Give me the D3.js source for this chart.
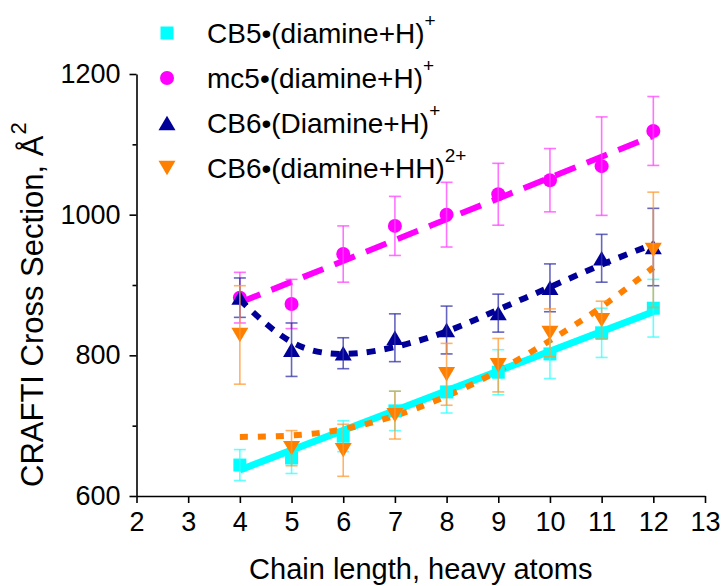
<!DOCTYPE html>
<html>
<head>
<meta charset="utf-8">
<script src="https://cdn.jsdelivr.net/npm/d3@7"></script>
<style>
  html, body { margin: 0; padding: 0; background: #fff; }
  svg { display: block; font-family: "Liberation Sans", Arial, sans-serif; }
</style>
</head>
<body>
<svg id="chart" width="723" height="586"></svg>
<script>
// ---------- data ----------
const chainLength = [4, 5, 6, 7, 8, 9, 10, 11, 12];

const cb5Values   = [644, 654, 685, 721, 748, 776, 802, 832, 867];
const cb5Errors   = [22, 22, 22, 28, 30, 32, 35, 35, 41];
const cb5Fit      = [637, 862];            // fit line at x = 4 and x = 12
const cb5FitX     = [4, 12];

const mc5Values   = [882, 873, 944, 984, 1000, 1029, 1049, 1069, 1119];
const mc5Errors   = [36, 35, 40, 42, 46, 44, 45, 70, 49];
const mc5Fit      = [875, 1112];
const mc5FitX     = [4, 12];

const cb6Values   = [882, 808, 803, 825, 836, 860, 896, 938, 954];
const cb6Errors   = [28, 38, 22, 34, 34, 27, 34, 34, 55];
const cb6Fit      = [879, 819, 802, 812, 834, 865, 897, 929, 958];

const cb6hhValues = [829, 668, 665, 715, 773, 786, 832, 850, 950];
const cb6hhErrors = [70, 25, 37, 34, 44, 38, 34, 27, 82];
const cb6hhFit    = [684, 686, 695, 714, 742, 778, 821, 869, 925];

const xTicks = [2, 3, 4, 5, 6, 7, 8, 9, 10, 11, 12, 13];
const yTicks = [600, 800, 1000, 1200];
const yMinorTicks = [700, 900, 1100];

const legendLabels = ["CB5\u2022(diamine+H)", "mc5\u2022(diamine+H)", "CB6\u2022(Diamine+H)", "CB6\u2022(diamine+HH)"];
const legendSups   = ["+", "+", "+", "2+"];

const xTitle = "Chain length, heavy atoms";
const yTitle = "CRAFTI Cross Section, \u00C5";
const yTitleSup = "2";

// ---------- setup ----------
const svg = d3.select("#chart");
const x = d3.scaleLinear().domain([2, 13]).range([136.5, 705]);
const y = d3.scaleLinear().domain([600, 1200]).range([496, 74]);

const colors = { cb5: "#00FFFF", mc5: "#FF00FF", cb6: "#000099", cb6hh: "#FF8000" };
const errColors = { cb5: "#33FFFF", mc5: "#FF44FF", cb6: "#3333AA", cb6hh: "#FF9933" };

// marker path generators (centered on bounding box)
function markerPath(shape) {
  switch (shape) {
    case "square": { const s = 6.5; return `M${-s},${-s}H${s}V${s}H${-s}Z`; }
    case "circle": { const r = 7; return `M${r},0A${r},${r} 0 1,1 ${-r},0A${r},${r} 0 1,1 ${r},0Z`; }
    case "up":     { const w = 8.5, h = 7.2; return `M0,${-h}L${w},${h}L${-w},${h}Z`; }
    case "down":   { const w = 8.5, h = 7.2; return `M0,${h}L${w},${-h}L${-w},${-h}Z`; }
  }
}

const series = [
  { key: "cb5",   vals: cb5Values,   errs: cb5Errors,   fit: cb5Fit,   fitX: cb5FitX,    shape: "square", dash: null,    curve: d3.curveLinear },
  { key: "mc5",   vals: mc5Values,   errs: mc5Errors,   fit: mc5Fit,   fitX: mc5FitX,    shape: "circle", dash: "22,12", curve: d3.curveLinear },
  { key: "cb6",   vals: cb6Values,   errs: cb6Errors,   fit: cb6Fit,   fitX: chainLength, shape: "up",     dash: "9,9",   curve: d3.curveNatural },
  { key: "cb6hh", vals: cb6hhValues, errs: cb6hhErrors, fit: cb6hhFit, fitX: chainLength, shape: "down",   dash: "8,10",  curve: d3.curveNatural }
];

// ---------- axes ----------
const xAxis = svg.append("g")
  .attr("transform", `translate(0,${y(600)})`)
  .call(d3.axisBottom(x).tickValues(xTicks).tickSize(7).tickSizeOuter(0).tickPadding(9).tickFormat(d3.format("d")));
const yAxis = svg.append("g")
  .attr("transform", `translate(${x(2)},0)`)
  .call(d3.axisLeft(y).tickValues(yTicks).tickSize(7).tickSizeOuter(0).tickPadding(9).tickFormat(d3.format("d")));
const yMinor = svg.append("g")
  .attr("transform", `translate(${x(2)},0)`)
  .call(d3.axisLeft(y).tickValues(yMinorTicks).tickSize(4).tickSizeOuter(0).tickFormat(""));
yMinor.select(".domain").remove();

[xAxis, yAxis, yMinor].forEach(g => {
  g.selectAll("path.domain").attr("stroke", "#000").attr("stroke-width", 1.6);
  g.selectAll(".tick line").attr("stroke", "#000").attr("stroke-width", 1.6);
  g.selectAll(".tick text").attr("fill", "#000").attr("font-size", 27)
    .attr("font-family", "'Liberation Sans', Arial, sans-serif");
});

// titles
svg.append("text")
  .attr("x", (x(2) + x(13)) / 2).attr("y", 579)
  .attr("text-anchor", "middle").attr("font-size", 29).attr("fill", "#000")
  .text(xTitle);

const yt = svg.append("text")
  .attr("transform", "translate(43,487) rotate(-90)")
  .attr("text-anchor", "start").attr("font-size", 31).attr("fill", "#000");
yt.append("tspan").text(yTitle);
yt.append("tspan").attr("dy", -17).attr("dx", 1).attr("font-size", 22).text(yTitleSup);

// ---------- fit lines ----------
series.forEach(s => {
  const line = d3.line().x((d, i) => x(s.fitX[i])).y(d => y(d)).curve(s.curve);
  svg.append("path")
    .attr("d", line(s.fit))
    .attr("fill", "none")
    .attr("stroke", colors[s.key])
    .attr("stroke-width", s.key === "cb5" ? 7 : 6)
    .attr("stroke-dasharray", s.dash)
    .attr("stroke-linecap", "butt");
});

// ---------- markers and error bars ----------
series.forEach(s => {
  const g = svg.append("g");
  g.selectAll("path.m").data(s.vals).join("path")
    .attr("class", "m")
    .attr("transform", (d, i) => `translate(${x(chainLength[i])},${y(d)})`)
    .attr("d", markerPath(s.shape))
    .attr("fill", colors[s.key]);
  const eb = g.selectAll("g.eb").data(s.vals).join("g").attr("class", "eb")
    .attr("stroke", errColors[s.key]).attr("stroke-width", 1.6).attr("stroke-opacity", 0.75);
  eb.append("line")
    .attr("x1", (d, i) => x(chainLength[i])).attr("x2", (d, i) => x(chainLength[i]))
    .attr("y1", (d, i) => y(d + s.errs[i])).attr("y2", (d, i) => y(d - s.errs[i]));
  eb.append("line")
    .attr("x1", (d, i) => x(chainLength[i]) - 6).attr("x2", (d, i) => x(chainLength[i]) + 6)
    .attr("y1", (d, i) => y(d + s.errs[i])).attr("y2", (d, i) => y(d + s.errs[i]));
  eb.append("line")
    .attr("x1", (d, i) => x(chainLength[i]) - 6).attr("x2", (d, i) => x(chainLength[i]) + 6)
    .attr("y1", (d, i) => y(d - s.errs[i])).attr("y2", (d, i) => y(d - s.errs[i]));
});

// ---------- legend ----------
const legendRowY = [43, 88, 133, 178];
const leg = svg.append("g");
series.forEach((s, i) => {
  leg.append("path")
    .attr("transform", `translate(167,${legendRowY[i] - 10})`)
    .attr("d", markerPath(s.shape))
    .attr("fill", colors[s.key]);
  const t = leg.append("text")
    .attr("x", 207).attr("y", legendRowY[i])
    .attr("font-size", 28).attr("fill", "#000");
  t.append("tspan").text(legendLabels[i]);
  t.append("tspan").attr("dy", -16).attr("font-size", 19).text(legendSups[i]);
});
</script>
</body>
</html>
